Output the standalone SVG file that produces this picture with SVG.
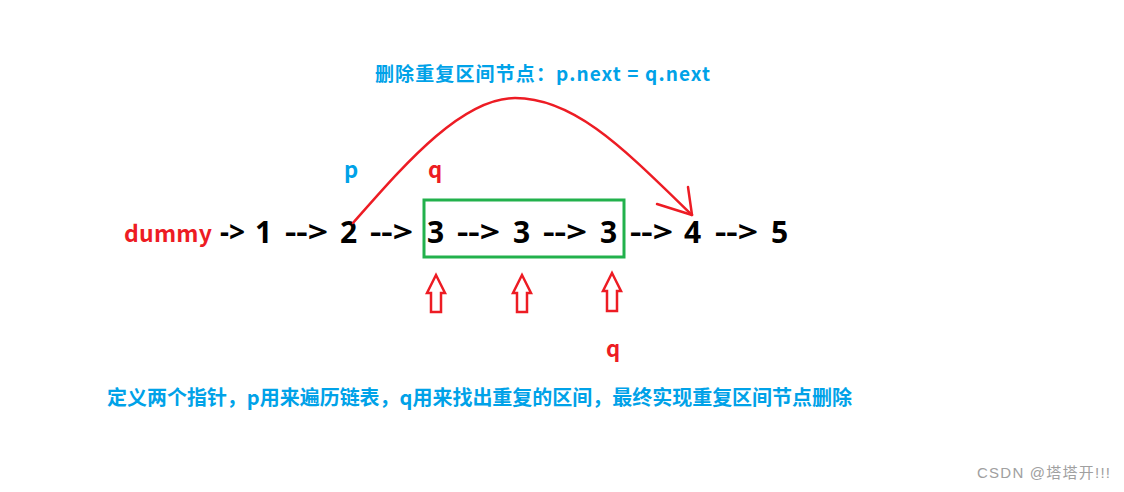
<svg xmlns="http://www.w3.org/2000/svg" width="1124" height="492" viewBox="0 0 1124 492">
<style>
.t{font-family:"Noto Sans CJK SC","Noto Sans",sans-serif;font-weight:bold}
.blue{fill:#00a2e8}
.red{fill:#ed1c24}
.num{font-family:"Noto Sans","Liberation Sans",sans-serif;font-weight:bold;font-size:30px;fill:#000}
.arr{font-family:"Noto Sans","Liberation Sans",sans-serif;font-weight:bold;font-size:28px;fill:#000}
.redline{fill:none;stroke:#ed1c24;stroke-width:2.5;stroke-linecap:round;stroke-linejoin:round}
.up{fill:#fff;stroke:#ed1c24;stroke-width:2.5}
</style>
<rect width="1124" height="492" fill="#fff"/>
<g id="title"><text class="t blue" x="375" y="81" font-size="19" textLength="335">删除重复区间节点：p.next = q.next</text></g>
<g id="label-p"><text class="t blue" x="344" y="178" font-size="22">p</text></g>
<g id="label-q"><text class="t red" x="428" y="178" font-size="22">q</text></g>
<g id="list">
<text class="t red" x="124" y="242" font-size="23" textLength="88">dummy</text>
<text class="arr" x="220" y="242" font-size="22" textLength="25" lengthAdjust="spacingAndGlyphs">-&gt;</text>
<text class="num" x="255" y="243">1</text>
<text class="arr" x="285" y="242" textLength="43" lengthAdjust="spacingAndGlyphs">--&gt;</text>
<text class="num" x="340" y="243">2</text>
<text class="arr" x="370" y="242" textLength="43" lengthAdjust="spacingAndGlyphs">--&gt;</text>
<text class="num" x="427" y="243">3</text>
<text class="arr" x="457" y="242" textLength="43" lengthAdjust="spacingAndGlyphs">--&gt;</text>
<text class="num" x="513" y="243">3</text>
<text class="arr" x="543" y="242" textLength="44" lengthAdjust="spacingAndGlyphs">--&gt;</text>
<text class="num" x="600" y="243">3</text>
<text class="arr" x="630" y="242" textLength="43" lengthAdjust="spacingAndGlyphs">--&gt;</text>
<text class="num" x="684" y="243">4</text>
<text class="arr" x="715" y="242" textLength="43" lengthAdjust="spacingAndGlyphs">--&gt;</text>
<text class="num" x="771" y="243">5</text>
</g>
<g id="box"><rect x="424" y="200" width="200" height="57" fill="none" stroke="#22b14c" stroke-width="3"/></g>
<g id="connectors">
<path class="redline" d="M353,223 C400,170 460,98 515,98 C575,98 625,150 692,215"/>
<path class="redline" d="M657,204 L692,215 L688,187"/>
</g>
<g id="up-arrows">
<path class="up" d="M436,275 L445,293 L441,293 L441,312 L431,312 L431,293 L427,293 Z"/>
<path class="up" d="M522,275 L531,293 L527,293 L527,312 L517,312 L517,293 L513,293 Z"/>
<path class="up" d="M612,273 L621,291 L617,291 L617,311 L607,311 L607,291 L603,291 Z"/>
</g>
<g id="label-q2"><text class="t red" x="606" y="357" font-size="22">q</text></g>
<g id="caption"><text class="t blue" x="107" y="405" font-size="20" textLength="745">定义两个指针，p用来遍历链表，q用来找出重复的区间，最终实现重复区间节点删除</text></g>
<g id="watermark"><text x="977" y="478" font-family="'Liberation Sans','Noto Sans CJK SC',sans-serif" font-size="15" fill="#a0a0a0" textLength="133">CSDN @塔塔开!!!</text></g>
</svg>
